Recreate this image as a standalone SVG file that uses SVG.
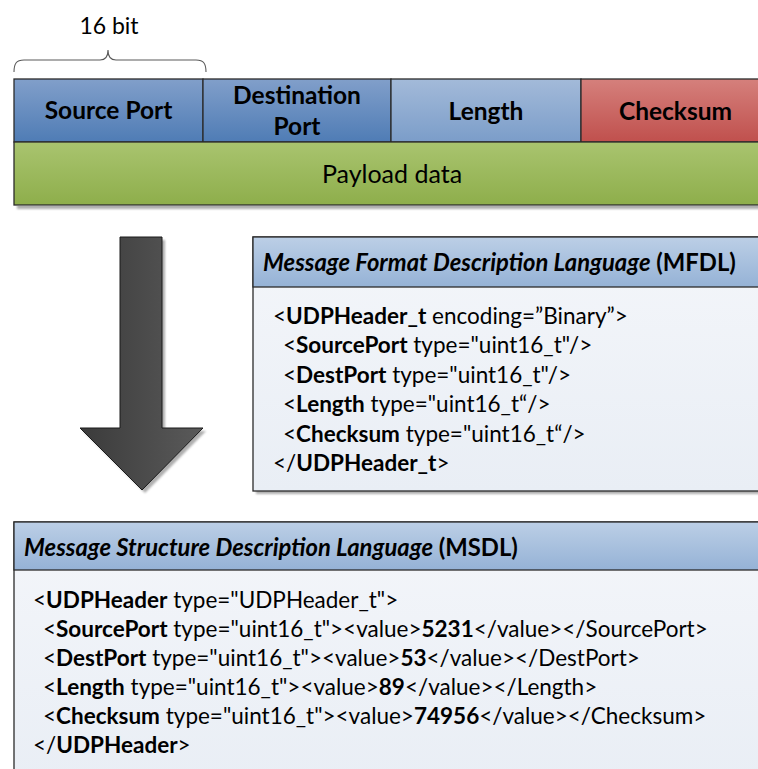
<svg xmlns="http://www.w3.org/2000/svg" width="758" height="769" viewBox="0 0 758 769">
  <style>
    .lbl { font-family: Lato, "Open Sans", sans-serif; fill: #000; }
    .cell { font-size: 24.5px; font-weight: bold; text-anchor: middle; }
    .code { font-size: 22.5px; }
    .hdr { font-size: 23.8px; font-weight: bold; }
    .b { font-weight: bold; }
    .i { font-style: italic; }
    .edge { stroke: #2b2b2b; stroke-width: 1.3; }
    .shadow { fill: #8c8c8c; opacity: 0.7; filter: url(#soft); }
  </style>
  <defs>
    <filter id="soft" x="-5%" y="-5%" width="110%" height="110%">
      <feGaussianBlur stdDeviation="0.8"/>
    </filter>
    <linearGradient id="gDark" x1="0" y1="0" x2="0" y2="1">
      <stop offset="0" stop-color="#819fca"/>
      <stop offset="1" stop-color="#4f7cb5"/>
    </linearGradient>
    <linearGradient id="gLight" x1="0" y1="0" x2="0" y2="1">
      <stop offset="0" stop-color="#a3bad9"/>
      <stop offset="1" stop-color="#7b9dc9"/>
    </linearGradient>
    <linearGradient id="gRed" x1="0" y1="0" x2="0" y2="1">
      <stop offset="0" stop-color="#d5807c"/>
      <stop offset="1" stop-color="#c0504d"/>
    </linearGradient>
    <linearGradient id="gGreen" x1="0" y1="0" x2="0" y2="1">
      <stop offset="0" stop-color="#a9c46f"/>
      <stop offset="1" stop-color="#8eae4b"/>
    </linearGradient>
    <linearGradient id="gHead" x1="0" y1="0" x2="0" y2="1">
      <stop offset="0" stop-color="#bccfe6"/>
      <stop offset="1" stop-color="#95b2d6"/>
    </linearGradient>
    <linearGradient id="gBody" x1="0" y1="0" x2="0" y2="1">
      <stop offset="0" stop-color="#f4f6fa"/>
      <stop offset="1" stop-color="#e9eef5"/>
    </linearGradient>
    <linearGradient id="gArrow" x1="0" y1="0" x2="1" y2="0">
      <stop offset="0" stop-color="#3b3b3b"/>
      <stop offset="1" stop-color="#5a5a5a"/>
    </linearGradient>
  </defs>

  <rect width="758" height="769" fill="#fff"/>

  <!-- field width brace -->
  <g id="brace">
    <path d="M14,72 C14,64 16,60 24,60 L100,60 C106,60 108,56 108,50 C108,56 110,60 116,60 L196,60 C204,60 206,64 206,72" fill="none" stroke="#5a5a5a" stroke-width="1.1"/>
    <text class="lbl" x="109" y="34" font-size="23" text-anchor="middle">16 bit</text>
  </g>

  <!-- UDP header layout -->
  <g id="udp-packet">
    <rect class="shadow" x="17" y="82" width="760" height="127"/>
    <rect x="14" y="79" width="760" height="127" fill="#fff"/>
  </g>
  <g id="field-source-port">
    <rect class="edge" x="14" y="79" width="189" height="63" fill="url(#gDark)"/>
    <text class="lbl cell" x="108.5" y="119">Source Port</text>
  </g>
  <g id="field-destination-port">
    <rect class="edge" x="203" y="79" width="188" height="63" fill="url(#gDark)"/>
    <text class="lbl cell" x="297" y="104">Destination</text>
    <text class="lbl cell" x="297" y="135">Port</text>
  </g>
  <g id="field-length">
    <rect class="edge" x="391" y="79" width="190" height="63" fill="url(#gLight)"/>
    <text class="lbl cell" x="486" y="120">Length</text>
  </g>
  <g id="field-checksum">
    <rect class="edge" x="581" y="79" width="190" height="63" fill="url(#gRed)"/>
    <text class="lbl cell" x="675.5" y="120">Checksum</text>
  </g>
  <g id="field-payload">
    <rect class="edge" x="14" y="142" width="757" height="63" fill="url(#gGreen)"/>
    <text class="lbl" x="392" y="183" font-size="25" text-anchor="middle">Payload data</text>
  </g>

  <!-- transformation arrow -->
  <g id="connectors">
    <polygon class="shadow" points="123,240 165,240 165,431 206,431 145,493 83,431 123,431"/>
    <polygon points="120,237 162,237 162,428 203,428 142,490 80,428 120,428" fill="url(#gArrow)" stroke="#1a1a1a" stroke-width="1"/>
  </g>

  <!-- MFDL box -->
  <g id="mfdl">
    <rect class="shadow" x="256" y="240" width="520" height="254"/>
    <rect class="edge" x="253" y="237" width="520" height="254" fill="url(#gBody)"/>
    <rect class="edge" x="253" y="237" width="520" height="50" fill="url(#gHead)"/>
    <text class="lbl hdr" x="263" y="271"><tspan class="i">Message Format Description Language</tspan> (MFDL)</text>
    <text class="lbl code" x="273" y="324">&lt;<tspan class="b">UDPHeader_t</tspan> encoding=”Binary”&gt;</text>
    <text class="lbl code" x="283" y="353">&lt;<tspan class="b">SourcePort</tspan> type="uint16_t"/&gt;</text>
    <text class="lbl code" x="283" y="383">&lt;<tspan class="b">DestPort</tspan> type="uint16_t"/&gt;</text>
    <text class="lbl code" x="283" y="412">&lt;<tspan class="b">Length</tspan> type="uint16_t“/&gt;</text>
    <text class="lbl code" x="283" y="442">&lt;<tspan class="b">Checksum</tspan> type="uint16_t“/&gt;</text>
    <text class="lbl code" x="273" y="471">&lt;/<tspan class="b">UDPHeader_t</tspan>&gt;</text>
  </g>

  <!-- MSDL box -->
  <g id="msdl">
    <rect class="shadow" x="17" y="525" width="760" height="260"/>
    <rect class="edge" x="14" y="522" width="760" height="260" fill="url(#gBody)"/>
    <rect class="edge" x="14" y="522" width="760" height="48" fill="url(#gHead)"/>
    <text class="lbl hdr" x="24" y="556"><tspan class="i">Message Structure Description Language</tspan> (MSDL)</text>
    <text class="lbl code" x="33" y="608">&lt;<tspan class="b">UDPHeader</tspan> type="UDPHeader_t"&gt;</text>
    <text class="lbl code" x="43" y="637">&lt;<tspan class="b">SourcePort</tspan> type="uint16_t"&gt;&lt;value&gt;<tspan class="b">5231</tspan>&lt;/value&gt;&lt;/SourcePort&gt;</text>
    <text class="lbl code" x="43" y="666">&lt;<tspan class="b">DestPort</tspan> type="uint16_t"&gt;&lt;value&gt;<tspan class="b">53</tspan>&lt;/value&gt;&lt;/DestPort&gt;</text>
    <text class="lbl code" x="43" y="695">&lt;<tspan class="b">Length</tspan> type="uint16_t"&gt;&lt;value&gt;<tspan class="b">89</tspan>&lt;/value&gt;&lt;/Length&gt;</text>
    <text class="lbl code" x="43" y="724">&lt;<tspan class="b">Checksum</tspan> type="uint16_t"&gt;&lt;value&gt;<tspan class="b">74956</tspan>&lt;/value&gt;&lt;/Checksum&gt;</text>
    <text class="lbl code" x="33" y="753">&lt;/<tspan class="b">UDPHeader</tspan>&gt;</text>
  </g>
</svg>
